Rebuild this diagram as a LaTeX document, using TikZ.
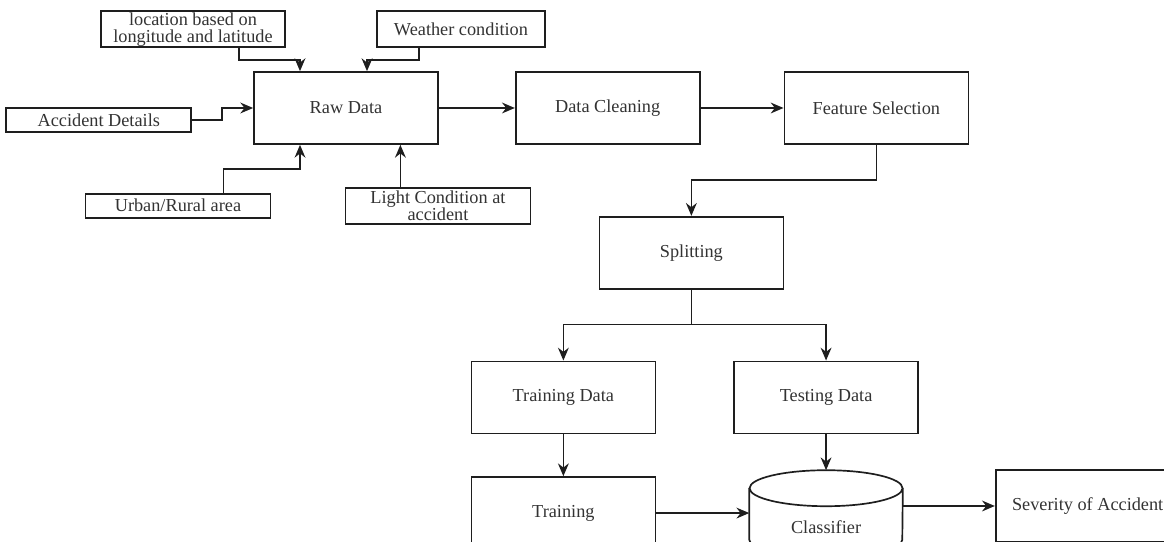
\documentclass[tikz,border=0pt]{standalone}
\usepackage{fontspec}
\setmainfont{Liberation Serif}
\usetikzlibrary{arrows.meta,positioning}
\definecolor{flowline}{HTML}{1E1E1E}
\definecolor{flowtext}{HTML}{333333}
\tikzset{
  block/.style={rectangle,draw=flowline,line width=1.2pt,fill=white,align=center,minimum width=4.6cm,minimum height=1.8cm,inner sep=0pt,text=flowtext,font=\fontsize{13}{12.2}\selectfont},
  source/.style={block,minimum width=4.625cm,minimum height=0.6cm},
  cylbox/.style={rectangle,minimum width=3.825cm,minimum height=2.175cm,inner sep=0pt},
  cylline/.style={line width=1.2pt,draw=flowline},
  edge/.style={-{Stealth[length=3.2mm,width=2.7mm]},line width=1.2pt,draw=flowline}
}

\begin{document}
\begin{tikzpicture}[node distance=1.9cm]
\useasboundingbox (-8.65,2.7) rectangle (20.45,-10.85);
\clip (-8.65,2.7) rectangle (20.45,-10.85);
\node[block] (raw) at (0,0) {Raw Data};
\node[block,right=1.9cm of raw] (clean) {Data Cleaning};
\node[block,right=2.075cm of clean] (feat) {Feature Selection};
\node[source,left=1.525cm of raw,yshift=-0.3cm] (accident) {Accident Details};
\node[source,below=1.2cm of raw,xshift=-4.2cm] (urban) {Urban/Rural area};
\node[source,minimum height=0.9cm,below=1.05cm of raw,xshift=2.3cm] (light) {Light Condition at\\accident};
\node[source,minimum width=4.6cm,minimum height=0.9cm,above=0.575cm of raw,xshift=-3.825cm] (location) {location based on\\longitude and latitude};
\node[source,minimum width=4.2cm,minimum height=0.9cm,above=0.575cm of raw,xshift=2.875cm] (weather) {Weather condition};
\node[block,below=1.775cm of feat,xshift=-4.625cm] (split) {Splitting};
\node[block,below=1.775cm of split,xshift=-3.2cm] (trdata) {Training Data};
\node[block,right=1.925cm of trdata] (tedata) {Testing Data};
\node[block,below=1.05cm of trdata] (train) {Training};
\node[cylbox,below=0.9cm of tedata] (clf) {};
\node[block,right=2.3cm of clf,yshift=0.2cm] (sev) {Severity of Accident};
% classifier drum
\draw[cylline] ([yshift=-0.45cm]clf.north) ellipse [x radius=1.9125cm,y radius=0.45cm];
\draw[cylline] ([yshift=-0.45cm]clf.north west) -- ([yshift=0.45cm]clf.south west)
  arc[start angle=180,end angle=360,x radius=1.9125cm,y radius=0.45cm] -- ([yshift=-0.45cm]clf.north east);
\node[text=flowtext,font=\fontsize{13}{12.2}\selectfont] (clflabel) at ([yshift=-0.34cm]clf.center) {Classifier};
% inputs
\draw[edge] ([xshift=1.15cm]location.south) -- ++(0,-0.3) -| ([xshift=-1.15cm]raw.north);
\draw[edge] ([xshift=-1.05cm]weather.south) -- ++(0,-0.3) -| ([xshift=0.525cm]raw.north);
\draw[edge] (accident.east) -- ++(0.75,0) |- (raw.west);
\draw[edge] ([xshift=1.14cm]urban.north) -- ++(0,0.6) -| ([xshift=-1.15cm]raw.south);
\draw[edge] ([xshift=-0.94cm]light.north) -- ([xshift=-0.94cm]light.north |- raw.south);
% pipeline
\draw[edge] (raw) -- (clean);
\draw[edge] (clean) -- (feat);
\draw[edge] (feat.south) -- ++(0,-0.875) -| (split.north);
\draw[edge] (split.south) -- ++(0,-0.875) -| (trdata.north);
\draw[edge] (split.south) -- ++(0,-0.875) -| (tedata.north);
\draw[edge] (trdata) -- (train);
\draw[edge] (tedata) -- (clf.north);
\draw[edge] (train.east) -- (train.east -| clf.west);
\draw[edge] (clf.east |- sev.west) -- (sev.west);
\end{tikzpicture}
\end{document}
